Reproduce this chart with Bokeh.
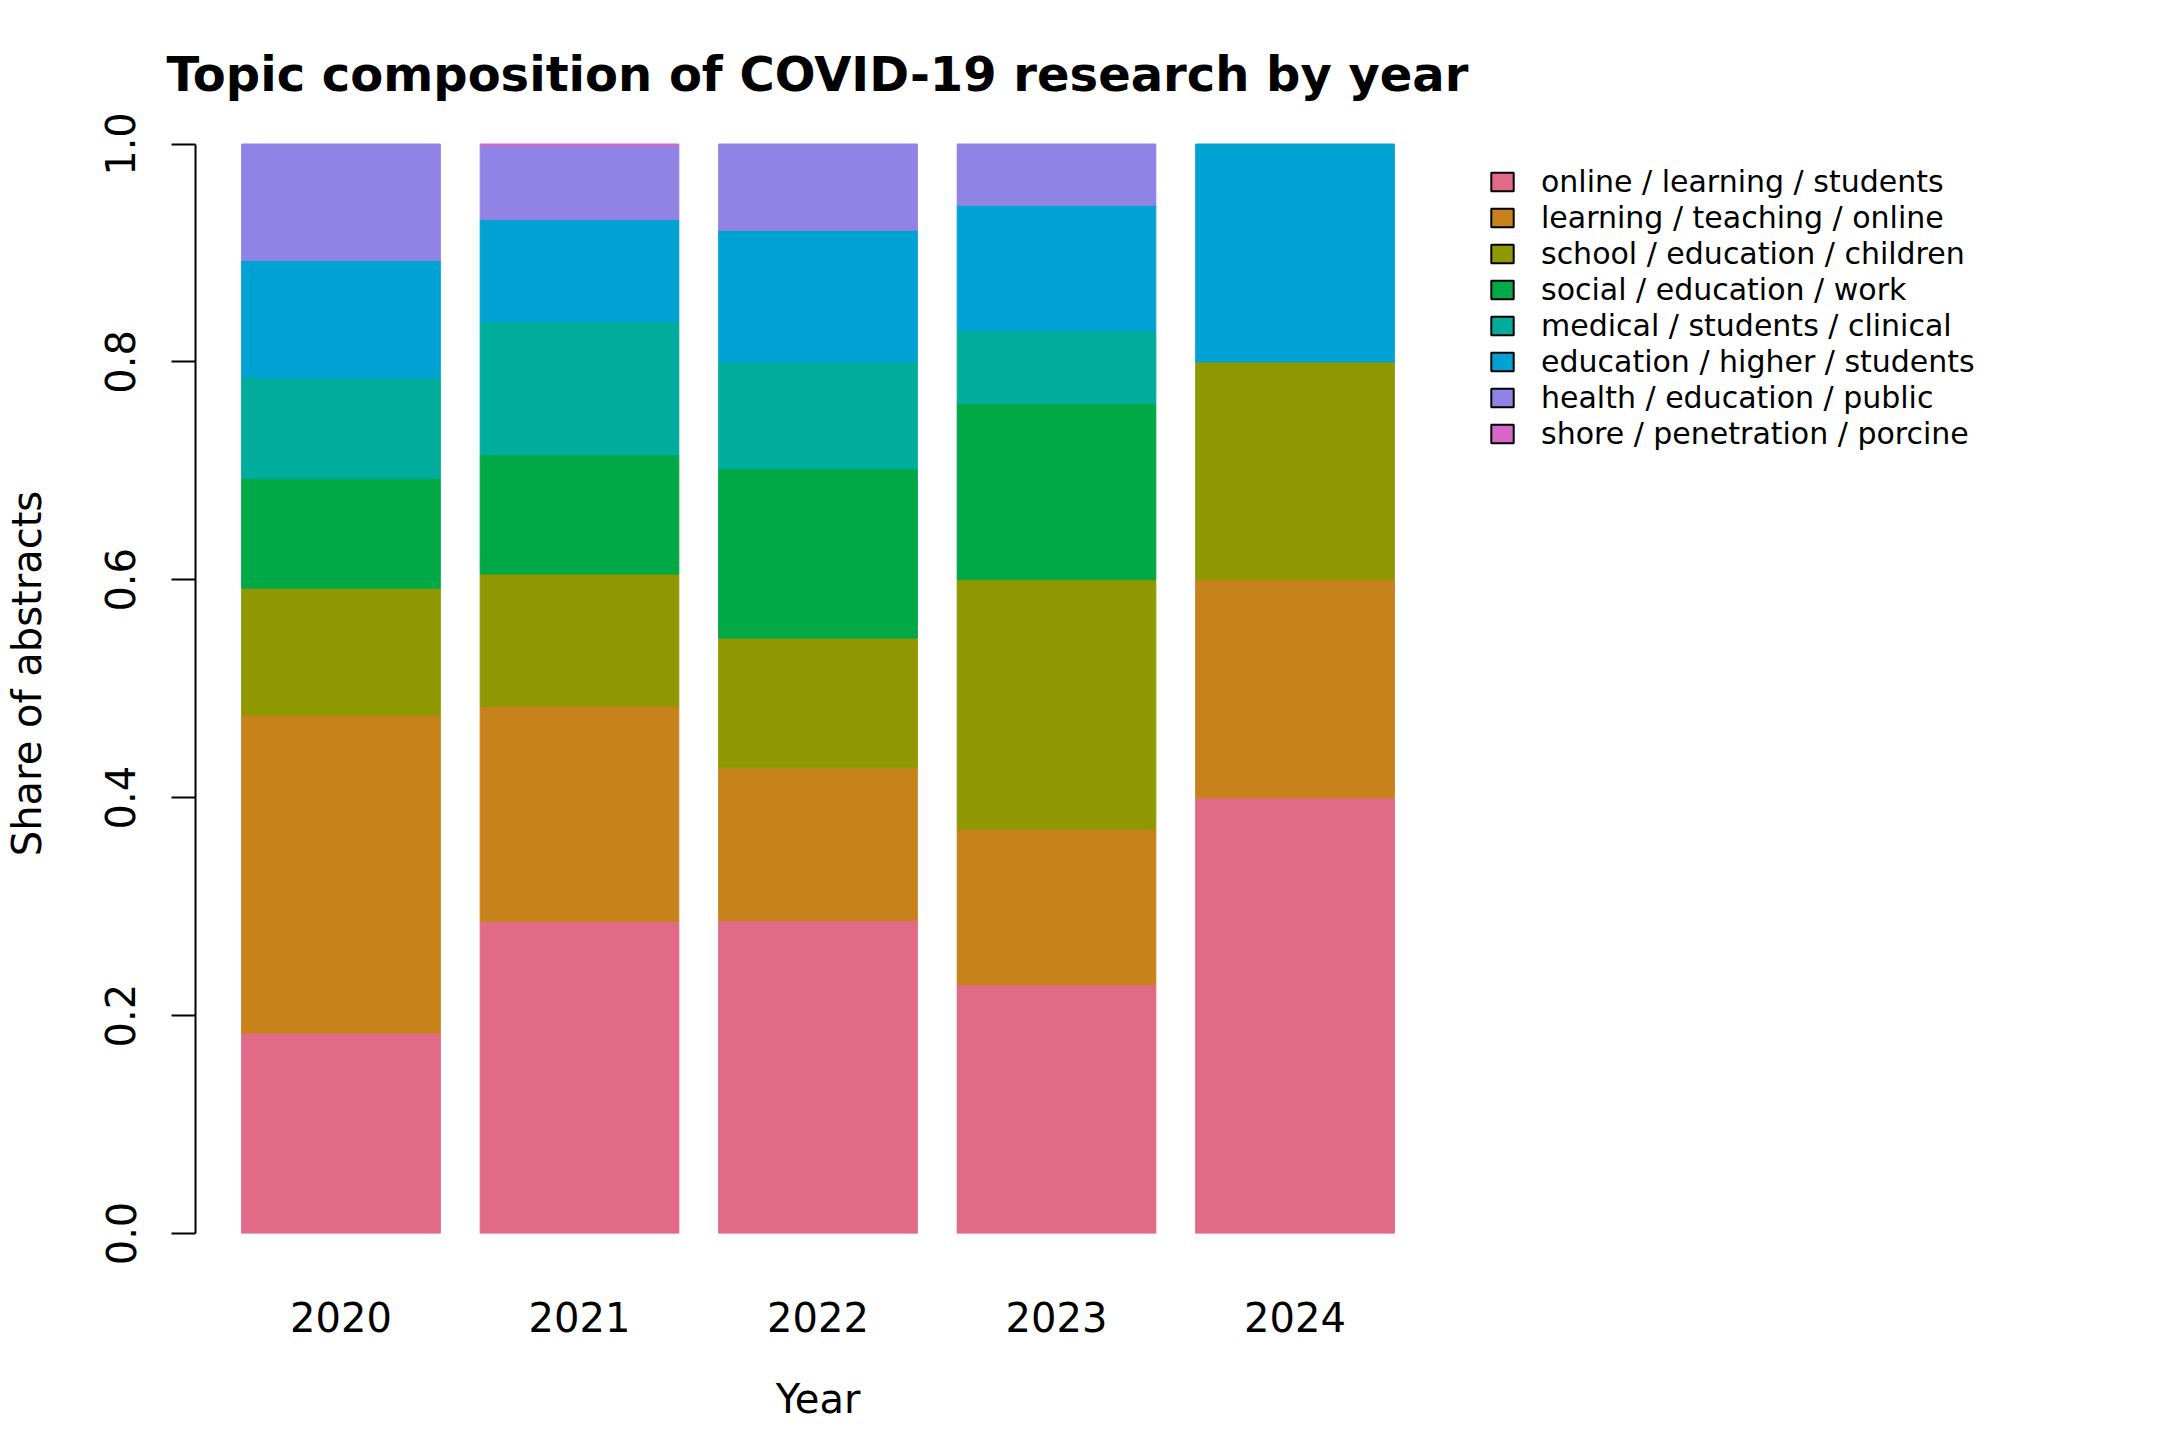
from bokeh.plotting import figure
from bokeh.layouts import row
from bokeh.models import (FactorRange, Range1d, FixedTicker, PrintfTickFormatter,
                          Legend, LegendItem, ColumnDataSource)
from bokeh.embed import file_html
from bokeh.resources import INLINE

years = ["2020", "2021", "2022", "2023", "2024"]
topics = [
    "online / learning / students",
    "learning / teaching / online",
    "school / education / children",
    "social / education / work",
    "medical / students / clinical",
    "education / higher / students",
    "health / education / public",
    "shore / penetration / porcine",
]
online_learning = [0.1839, 0.2866, 0.2873, 0.2284, 0.40]
learning_teaching = [0.2919, 0.1970, 0.1401, 0.1426, 0.20]
school_education = [0.1165, 0.1218, 0.1191, 0.2291, 0.20]
social_education = [0.1008, 0.1093, 0.1557, 0.1617, 0.00]
medical_students = [0.0929, 0.1223, 0.0982, 0.0667, 0.00]
education_higher = [0.1073, 0.0936, 0.1204, 0.1152, 0.20]
health_education = [0.1067, 0.0681, 0.0792, 0.0563, 0.00]
shore_penetration = [0.0000, 0.0013, 0.0000, 0.0000, 0.00]
colors = ["#E16A86", "#C7821C", "#909800", "#00A846",
          "#00AC9B", "#00A2D3", "#9183E6", "#D766C9"]
y_ticks = [0.0, 0.2, 0.4, 0.6, 0.8, 1.0]

keys = ["t%d" % i for i in range(len(topics))]
alphas = ["a%d" % i for i in range(len(topics))]
series = [online_learning, learning_teaching, school_education, social_education,
          medical_students, education_higher, health_education, shore_penetration]
data = {"year": years}
for k, a, s in zip(keys, alphas, series):
    data[k] = s
    data[a] = [1.0 if v > 0 else 0.0 for v in s]
source = ColumnDataSource(data)

FONT = "DejaVu Sans"
H = 1424
W_MAIN, W_LEG = 1486, 658

# ---------------- main chart ----------------
p = figure(width=W_MAIN, height=H,
           x_range=FactorRange(factors=years, range_padding=0.11,
                               range_padding_units="absolute"),
           y_range=Range1d(0, 1.028),
           output_backend="svg", toolbar_location=None,
           min_border_left=191, min_border_right=46,
           min_border_top=113, min_border_bottom=189)

p.vbar_stack(keys, x="year", width=0.833, source=source,
             fill_color=colors, line_color=colors, line_width=1,
             line_alpha=alphas)

p.title.text = "Topic composition of COVID-19 research by year"
p.title.text_font = FONT
p.title.text_font_size = "48px"
p.title.text_font_style = "bold"
p.title.text_color = "black"
p.title.align = "left"
p.title.offset = -29
p.title.standoff = 24

p.grid.visible = False
p.outline_line_color = None
p.background_fill_color = "white"
p.border_fill_color = "white"

xa = p.xaxis[0]
xa.axis_line_color = None
xa.major_tick_line_color = None
xa.minor_tick_line_color = None
xa.major_tick_out = 0
xa.major_tick_in = 0
xa.major_label_text_font = FONT
xa.major_label_text_font_size = "40px"
xa.major_label_text_color = "black"
xa.major_label_standoff = 68
xa.axis_label = "Year"
xa.axis_label_text_font = FONT
xa.axis_label_text_font_size = "40px"
xa.axis_label_text_font_style = "normal"
xa.axis_label_text_color = "black"
xa.axis_label_standoff = 41

ya = p.yaxis[0]
ya.ticker = FixedTicker(ticks=y_ticks)
ya.formatter = PrintfTickFormatter(format="%.1f")
ya.bounds = (0, 1)
ya.major_label_orientation = "vertical"
ya.axis_line_color = "black"
ya.axis_line_width = 2
ya.major_tick_line_color = "black"
ya.major_tick_line_width = 2
ya.major_tick_out = 24
ya.major_tick_in = 0
ya.minor_tick_line_color = None
ya.major_label_text_font = FONT
ya.major_label_text_font_size = "40px"
ya.major_label_text_color = "black"
ya.major_label_standoff = 36
ya.axis_label = "Share of abstracts"
ya.axis_label_text_font = FONT
ya.axis_label_text_font_size = "40px"
ya.axis_label_text_font_style = "normal"
ya.axis_label_text_color = "black"
ya.axis_label_standoff = 53

# ---------------- legend panel ----------------
q = figure(width=W_LEG, height=H, x_range=Range1d(0, 1), y_range=Range1d(0, 1),
           output_backend="svg", toolbar_location=None,
           x_axis_location=None, y_axis_location=None,
           min_border_left=0, min_border_right=0,
           min_border_top=0, min_border_bottom=0)
q.grid.visible = False
q.outline_line_color = None
q.background_fill_color = "white"
q.border_fill_color = "white"

items = []
for t, c in zip(topics, colors):
    r = q.vbar(x=[0.5], top=[0.0], width=0.5, fill_color=c,
               line_color="black", line_width=2, visible=False)
    items.append(LegendItem(label=t, renderers=[r]))

legend = Legend(items=items, location=(2, 782),
                glyph_width=28, glyph_height=23, label_height=36,
                spacing=0, padding=0, margin=0,
                border_line_color=None, background_fill_alpha=0,
                inactive_fill_alpha=0,
                label_text_font=FONT, label_text_font_size="30px",
                label_text_color="black", label_standoff=25)
q.add_layout(legend)

layout = row(p, q)
open("out.html", "w").write(file_html(layout, INLINE))
